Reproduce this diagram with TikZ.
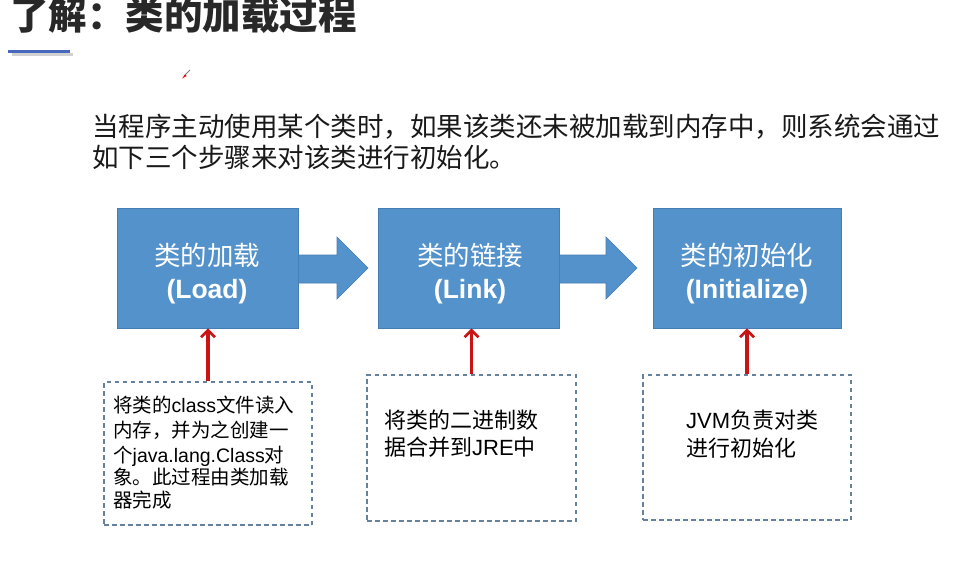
\documentclass[tikz,border=0pt]{standalone}
\usepackage{fontspec}
\setmainfont{Liberation Sans}
\newfontfamily\cjk{Noto Sans CJK SC}
\usetikzlibrary{arrows.meta,calc}
\definecolor{boxblue}{RGB}{84,146,204}
\definecolor{boxedge}{RGB}{70,125,180}
\definecolor{dashc}{RGB}{100,130,160}
\definecolor{redc}{RGB}{200,20,20}
\definecolor{titlec}{RGB}{40,40,40}
\definecolor{linec}{RGB}{70,105,190}
\tikzset{
  bluebox/.style={draw=boxedge,line width=0.8pt,fill=boxblue,minimum width=181pt,minimum height=120pt,inner sep=0pt},
  boxtxt/.style={inner sep=0pt,align=center,text=white,font=\fontsize{26.5}{33}\selectfont},
  dashbox/.style={draw=dashc,line width=1.4pt,dash pattern=on 4.5pt off 3.5pt,inner sep=0pt},
  redarrow/.style={draw=redc,line width=3.2pt,-{Straight Barb[length=7pt,width=14pt,line width=2.6pt]}},
  blockarrow/.style={fill=boxblue,draw=boxedge,line width=0.6pt},
  smalltxt/.style={anchor=base west,inner sep=0pt,font=\fontsize{19.5}{24}\selectfont,text=black},
  midtxt/.style={anchor=base west,inner sep=0pt,font=\fontsize{22}{27}\selectfont,text=black}
}
\begin{document}
\begin{tikzpicture}[x=1pt,y=-1pt]
\useasboundingbox[fill=white] (0,0) rectangle (960,578);
% title
\node[anchor=base west,inner sep=0pt,text=titlec,font=\fontsize{38.5}{40}\selectfont\cjk\bfseries] (title) at (10,30) {了解：类的加载过程};
\draw[black!18,line width=3pt] (12,55) -- (73,55);
\draw[linec,line width=3pt] (8,51.5) -- (70,51.5);
% small pen cursor
\draw[gray,line width=0.8pt] (184,76) -- (190,70);
\fill[red] (182,78.5) -- (185,74.5) -- (186.5,76) -- cycle;
% paragraph
\node[anchor=base west,inner sep=0pt,font=\fontsize{26.5}{33}\selectfont\cjk,text=black!90] (p1) at (92,136) {当程序主动使用某个类时，如果该类还未被加载到内存中，则系统会通过};
\node[anchor=base west,inner sep=0pt,font=\fontsize{26.5}{33}\selectfont\cjk,text=black!90] (p2) at (92,167) {如下三个步骤来对该类进行初始化。};
% blue boxes
\node[bluebox] (b1) at (208,268) {};
\node[bluebox] (b2) at (469,268) {};
\node[bluebox,minimum width=188pt] (b3) at (747,268) {};
\node[boxtxt] (b1t) at (207,274) {{\cjk 类的加载}\\\textbf{(Load)}};
\node[boxtxt] (b2t) at (470,274) {{\cjk 类的链接}\\\textbf{(Link)}};
\node[boxtxt] (b3t) at (747,274) {{\cjk 类的初始化}\\\textbf{(Initialize)}};
% block arrows
\draw[blockarrow] (b1.east |- 0,255) -- (337,255) -- (337,237) -- (368,268) -- (337,299) -- (337,283) -- (b1.east |- 0,283);
\draw[blockarrow] (b2.east |- 0,255) -- (606,255) -- (606,237) -- (637,268) -- (606,299) -- (606,283) -- (b2.east |- 0,283);
% dashed boxes
\node[dashbox,minimum width=208pt,minimum height=143pt] (d1) at (208,453.5) {};
\node[dashbox,minimum width=209pt,minimum height=146pt] (d2) at (471.5,448) {};
\node[dashbox,minimum width=208pt,minimum height=145pt] (d3) at (747,447.5) {};
% red arrows
\draw[redarrow] (d1.north) -- (d1.north |- b1.south);
\draw[redarrow] (d2.north) -- (d2.north |- b2.south);
\draw[redarrow] (d3.north) -- (d3.north |- b3.south);
% texts in dashed boxes
\node[smalltxt] (t11) at (113,412) {{\cjk 将类的}class{\cjk 文件读入}};
\node[smalltxt] (t12) at (113,437) {{\cjk 内存，并为之创建一}};
\node[smalltxt] (t13) at (113,462) {{\cjk 个}java.lang.Class{\cjk 对}};
\node[smalltxt] (t14) at (113,484) {{\cjk 象。此过程由类加载}};
\node[smalltxt] (t15) at (113,507) {{\cjk 器完成}};
\node[midtxt] (t21) at (384,428) {{\cjk 将类的二进制数}};
\node[midtxt] (t22) at (384,455) {{\cjk 据合并到}JRE{\cjk 中}};
\node[midtxt] (t31) at (686,428) {JVM{\cjk 负责对类}};
\node[midtxt] (t32) at (686,456) {{\cjk 进行初始化}};
\end{tikzpicture}
\end{document}
